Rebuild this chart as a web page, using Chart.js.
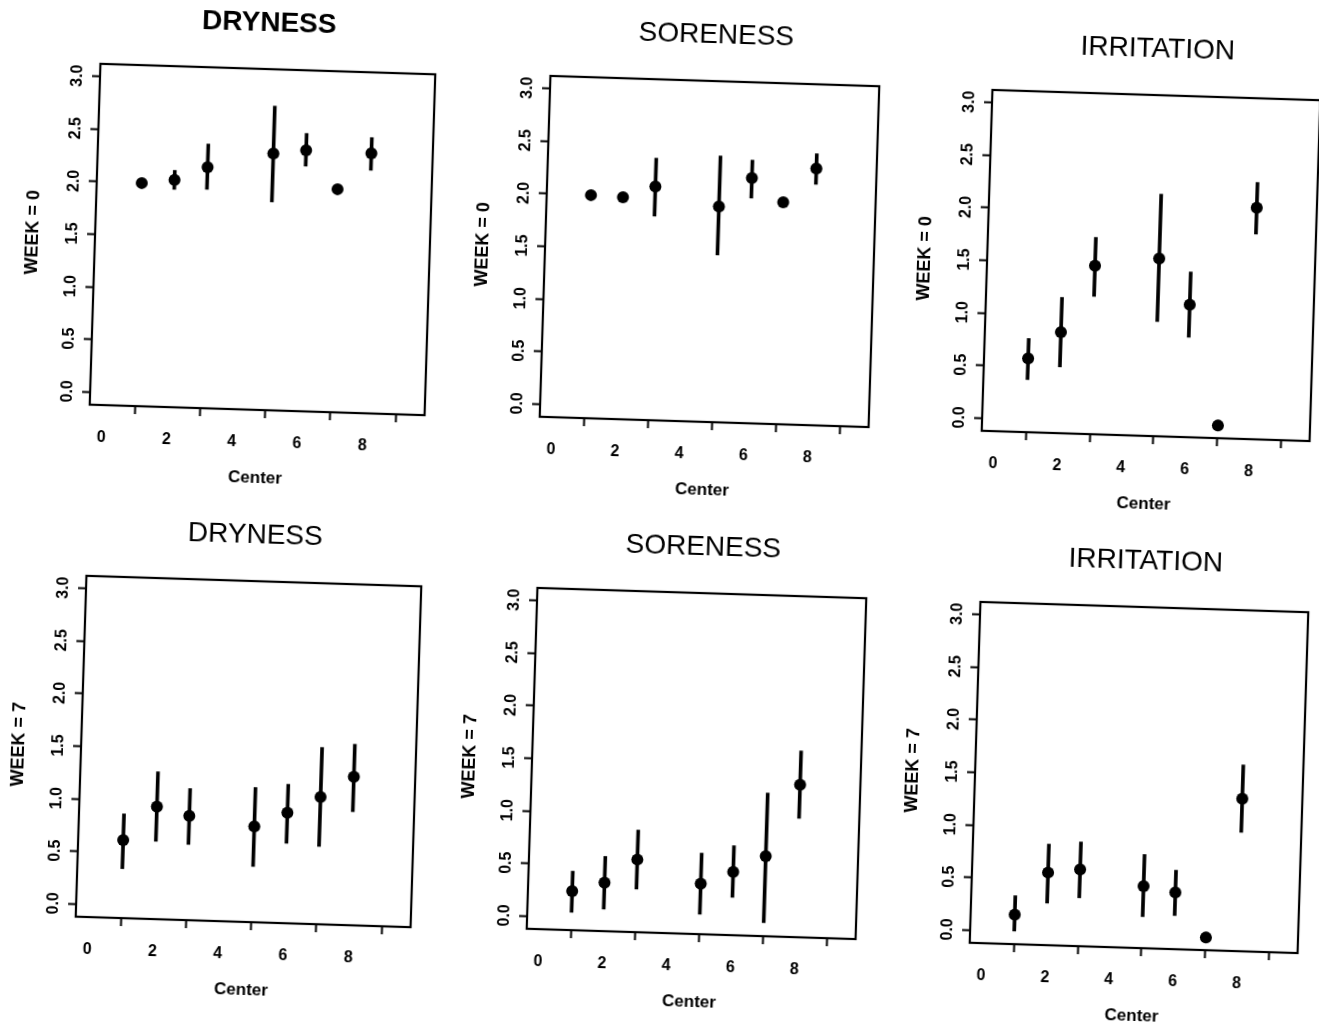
<!DOCTYPE html>
<html>
<head>
<meta charset="utf-8">
<title>Dryness / Soreness / Irritation by Center</title>
<script src="https://cdn.jsdelivr.net/npm/chart.js@4.4.1/dist/chart.umd.min.js"></script>
<style>
	body { margin: 0; background: #fff; overflow: hidden; }
	#page { position: relative; width: 1319px; height: 1027px; overflow: hidden; background: #fff; }
	#page canvas { position: absolute; }
</style>
</head>
<body>
<div id="page"></div>
<script>
/* data: mean and interval per center */
const centers = [1, 2, 3, 5, 6, 7, 8]
const xTicks = [0, 2, 4, 6, 8]
const xTickLabels = ['0', '2', '4', '6', '8']
const yTicks = [0, 0.5, 1, 1.5, 2, 2.5, 3]
const yTickLabels = ['0.0', '0.5', '1.0', '1.5', '2.0', '2.5', '3.0']

const drynessW0 = [2.00, 2.04, 2.17, 2.32, 2.36, 2.00, 2.35]
const drynessW0Low = [null, 1.95, 1.96, 1.86, 2.21, null, 2.19]
const drynessW0High = [null, 2.13, 2.39, 2.77, 2.52, null, 2.50]

const sorenessW0 = [2.00, 1.99, 2.10, 1.93, 2.21, 1.99, 2.32]
const sorenessW0Low = [null, null, 1.82, 1.47, 2.02, null, 2.17]
const sorenessW0High = [null, null, 2.37, 2.41, 2.38, null, 2.46]

const irritationW0 = [0.58, 0.84, 1.48, 1.57, 1.14, 0.00, 2.08]
const irritationW0Low = [0.38, 0.51, 1.19, 0.97, 0.83, null, 1.83]
const irritationW0High = [0.77, 1.17, 1.75, 2.18, 1.45, null, 2.32]

const drynessW7 = [0.62, 0.95, 0.87, 0.79, 0.93, 1.09, 1.29]
const drynessW7Low = [0.35, 0.62, 0.60, 0.41, 0.64, 0.62, 0.96]
const drynessW7High = [0.87, 1.28, 1.13, 1.16, 1.20, 1.56, 1.60]

const sorenessW7 = [0.25, 0.34, 0.57, 0.36, 0.48, 0.64, 1.33]
const sorenessW7Low = [0.05, 0.09, 0.29, 0.07, 0.24, 0.01, 1.01]
const sorenessW7High = [0.44, 0.59, 0.85, 0.65, 0.73, 1.24, 1.65]

const irritationW7 = [0.16, 0.57, 0.61, 0.47, 0.42, 0.00, 1.33]
const irritationW7Low = [0.00, 0.28, 0.34, 0.18, 0.20, null, 1.01]
const irritationW7High = [0.34, 0.84, 0.87, 0.77, 0.63, null, 1.65]

/* layout of the six panels (box centre on the page, box width) */
const panels = [
	{ title: 'DRYNESS', week: 'WEEK = 0', mean: drynessW0, low: drynessW0Low, high: drynessW0High, cx: 262.5, cy: 239, w: 335, bold: true },
	{ title: 'SORENESS', week: 'WEEK = 0', mean: sorenessW0, low: sorenessW0Low, high: sorenessW0High, cx: 709.5, cy: 251.5, w: 329 },
	{ title: 'IRRITATION', week: 'WEEK = 0', mean: irritationW0, low: irritationW0Low, high: irritationW0High, cx: 1151, cy: 265, w: 328 },
	{ title: 'DRYNESS', week: 'WEEK = 7', mean: drynessW7, low: drynessW7Low, high: drynessW7High, cx: 248.75, cy: 751, w: 335 },
	{ title: 'SORENESS', week: 'WEEK = 7', mean: sorenessW7, low: sorenessW7Low, high: sorenessW7High, cx: 696, cy: 763.75, w: 329 },
	{ title: 'IRRITATION', week: 'WEEK = 7', mean: irritationW7, low: irritationW7Low, high: irritationW7High, cx: 1138.75, cy: 777.5, w: 328 }
]

const boxH = 341
const yAxisW = 75
const xAxisH = 90
const titleH = 70
const rightPad = 20
const tilt = 1.8 // the scan is slightly rotated

Chart.defaults.font.family = '"Liberation Sans", Arial, Helvetica, sans-serif'
Chart.defaults.color = '#000'

// plain box around the plot region, like R's box()
const frame = {
	id: 'frame',
	afterDraw(chart) {
		const { ctx, chartArea: a } = chart
		ctx.save()
		ctx.strokeStyle = '#000'
		ctx.lineWidth = 2.2
		ctx.strokeRect(a.left, a.top, a.right - a.left, a.bottom - a.top)
		ctx.restore()
	}
}

const page = document.getElementById('page')

panels.forEach((p) => {
	const canvas = document.createElement('canvas')
	const W = yAxisW + p.w + rightPad
	const H = titleH + boxH + xAxisH
	canvas.width = W
	canvas.height = H
	canvas.style.width = W + 'px'
	canvas.style.height = H + 'px'
	const ox = yAxisW + p.w / 2
	const oy = titleH + boxH / 2
	canvas.style.left = (p.cx - ox) + 'px'
	canvas.style.top = (p.cy - oy) + 'px'
	canvas.style.transformOrigin = `${ox}px ${oy}px`
	canvas.style.transform = `rotate(${tilt}deg)`
	page.appendChild(canvas)

	const points = centers.map((c, i) => ({ x: c, y: p.mean[i] }))
	const bars = []
	centers.forEach((c, i) => {
		if (p.low[i] !== null) bars.push({ x: c, y: [p.low[i], p.high[i]] })
	})

	new Chart(canvas, {
		type: 'scatter',
		data: {
			datasets: [
				{
					type: 'bar',
					data: bars,
					backgroundColor: '#000',
					borderWidth: 0,
					barThickness: 3,
					order: 2
				},
				{
					type: 'scatter',
					data: points,
					backgroundColor: '#000',
					borderWidth: 0,
					pointRadius: 6,
					order: 1
				}
			]
		},
		options: {
			responsive: false,
			animation: false,
			events: [],
			layout: { padding: { left: 0, right: rightPad, top: 0, bottom: 0 } },
			plugins: {
				legend: { display: false },
				tooltip: { enabled: false },
				title: {
					display: true,
					fullSize: false,
					text: p.title,
					color: '#000',
					font: { size: 28, weight: p.bold ? 'bold' : 'normal', lineHeight: 1 },
					padding: { top: 10, bottom: 32 }
				}
			},
			scales: {
				x: {
					type: 'linear',
					min: -0.38,
					max: 9.88,
					offset: false,
					afterBuildTicks: (scale) => { scale.ticks = xTicks.map((v) => ({ value: v })) },
					afterFit: (scale) => { scale.height = xAxisH },
					ticks: {
						callback: (v, i) => xTickLabels[i],
						font: { size: 16, weight: 'bold' },
						padding: 15,
						maxRotation: 0,
						autoSkip: false
					},
					grid: { drawOnChartArea: false, drawTicks: true, tickLength: 8, tickColor: '#000', tickWidth: 2 },
					border: { display: false },
					title: {
						display: true,
						text: 'Center',
						font: { size: 17, weight: 'bold' },
						padding: { top: 0, bottom: 11 }
					}
				},
				y: {
					type: 'linear',
					min: -0.12,
					max: 3.12,
					afterBuildTicks: (scale) => { scale.ticks = yTicks.map((v) => ({ value: v })) },
					afterFit: (scale) => { scale.width = yAxisW },
					ticks: {
						callback: (v, i) => yTickLabels[i],
						font: { size: 16, weight: 'bold' },
						padding: 3,
						minRotation: 90,
						maxRotation: 90,
						crossAlign: 'center',
						autoSkip: false
					},
					grid: { drawOnChartArea: false, drawTicks: true, tickLength: 8, tickColor: '#000', tickWidth: 2 },
					border: { display: false },
					title: {
						display: true,
						text: p.week,
						font: { size: 18, weight: 'bold' },
						padding: { top: 2, bottom: 0 }
					}
				}
			}
		},
		plugins: [frame]
	})
})
</script>
</body>
</html>
